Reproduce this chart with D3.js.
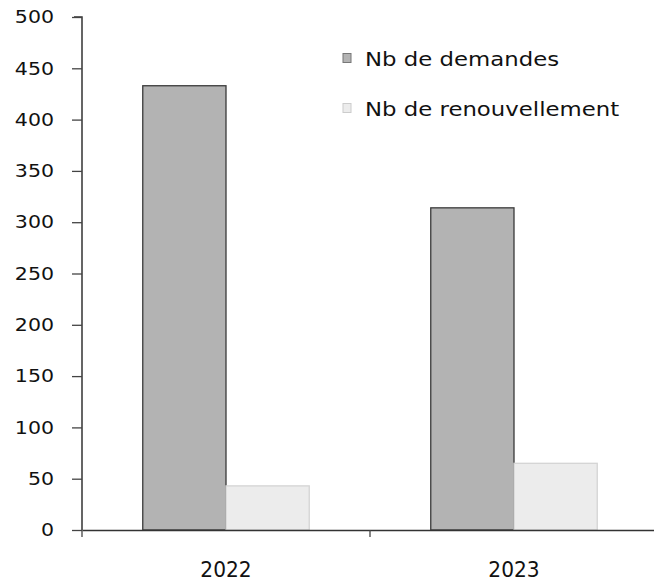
<!DOCTYPE html>
<html><head><meta charset="utf-8">
<script src="https://cdn.jsdelivr.net/npm/d3@7"></script>
<style>body{margin:0;background:#fff}svg{display:block}text{font-family:"DejaVu Sans",Verdana,sans-serif;fill:#111}</style>
</head><body><svg id="c" width="654" height="584"></svg>
<script>
const years = ["2022", "2023"];
const seriesNames = ["Nb de demandes", "Nb de renouvellement"];
const demandes = [433, 314];
const renouvellement = [43, 65];
const yTicks = [0, 50, 100, 150, 200, 250, 300, 350, 400, 450, 500];

const svg = d3.select("#c");
const x0 = 82, y0 = 530, yTop = 17;
const x = d3.scaleBand().domain(years).range([x0, x0 + 576]).paddingInner(0).paddingOuter(0);
const xs = d3.scaleBand().domain(seriesNames).range([0, x.bandwidth()]).paddingInner(0).paddingOuter(0.73);
const y = d3.scaleLinear().domain([0, 500]).range([y0, yTop]);
const fills = ["#b3b3b3", "#ececec"];
const strokes = ["#3a3a3a", "#d4d4d4"];

function stretch(sel, k) {
  sel.each(function() {
    const w = this.getComputedTextLength();
    d3.select(this).attr("textLength", w * k).attr("lengthAdjust", "spacingAndGlyphs");
  });
}

const data = years.map((yr, i) => ({yr, vals: [demandes[i], renouvellement[i]]}));
const g = svg.selectAll("g.grp").data(data).join("g").attr("transform", d => `translate(${x(d.yr)},0)`);
g.selectAll("rect").data(d => d.vals.map((v, k) => ({v, k})))
  .join("rect")
  .attr("x", d => xs(seriesNames[d.k]))
  .attr("width", xs.bandwidth())
  .attr("y", d => y(d.v))
  .attr("height", d => y0 - y(d.v))
  .attr("fill", d => fills[d.k])
  .attr("stroke", d => strokes[d.k])
  .attr("stroke-width", 1.3);

// y axis
const ya = svg.append("g").attr("transform", `translate(${x0},0)`)
  .call(d3.axisLeft(y).tickValues(yTicks).tickSize(10).tickPadding(18));
ya.select(".domain").attr("stroke", "#333").attr("stroke-width", 1.5).attr("d", `M-8,${yTop}H0V${y0}`);
ya.selectAll(".tick line").attr("stroke", "#444").attr("stroke-width", 1.3);
ya.selectAll(".tick text").attr("font-size", 18).attr("fill", "#111");
stretch(ya.selectAll(".tick text"), 1.14);

// x axis
const xa = svg.append("g").attr("transform", `translate(0,${y0})`)
  .call(d3.axisBottom(x).tickSize(0).tickPadding(32));
xa.select(".domain").attr("stroke", "#333").attr("stroke-width", 1.5);
xa.selectAll(".tick text").attr("font-size", 21).attr("fill", "#111");
stretch(xa.selectAll(".tick text"), 0.96);
// category separators
[x0, x0 + x.bandwidth()].forEach(px => {
  svg.append("line").attr("x1", px).attr("x2", px).attr("y1", y0).attr("y2", y0 + 7).attr("stroke", "#444").attr("stroke-width", 1.3);
});

// legend
const leg = svg.append("g");
seriesNames.forEach((n, i) => {
  const ly = 58 + i * 50;
  leg.append("rect").attr("x", 343).attr("y", ly - 4.5).attr("width", 8).attr("height", 9)
    .attr("fill", fills[i]).attr("stroke", i === 0 ? "#777" : "#ccc");
  const t = leg.append("text").attr("x", 365).attr("y", ly + 8).attr("font-size", 19).text(n);
  stretch(t, 1.2);
});
</script></body></html>
